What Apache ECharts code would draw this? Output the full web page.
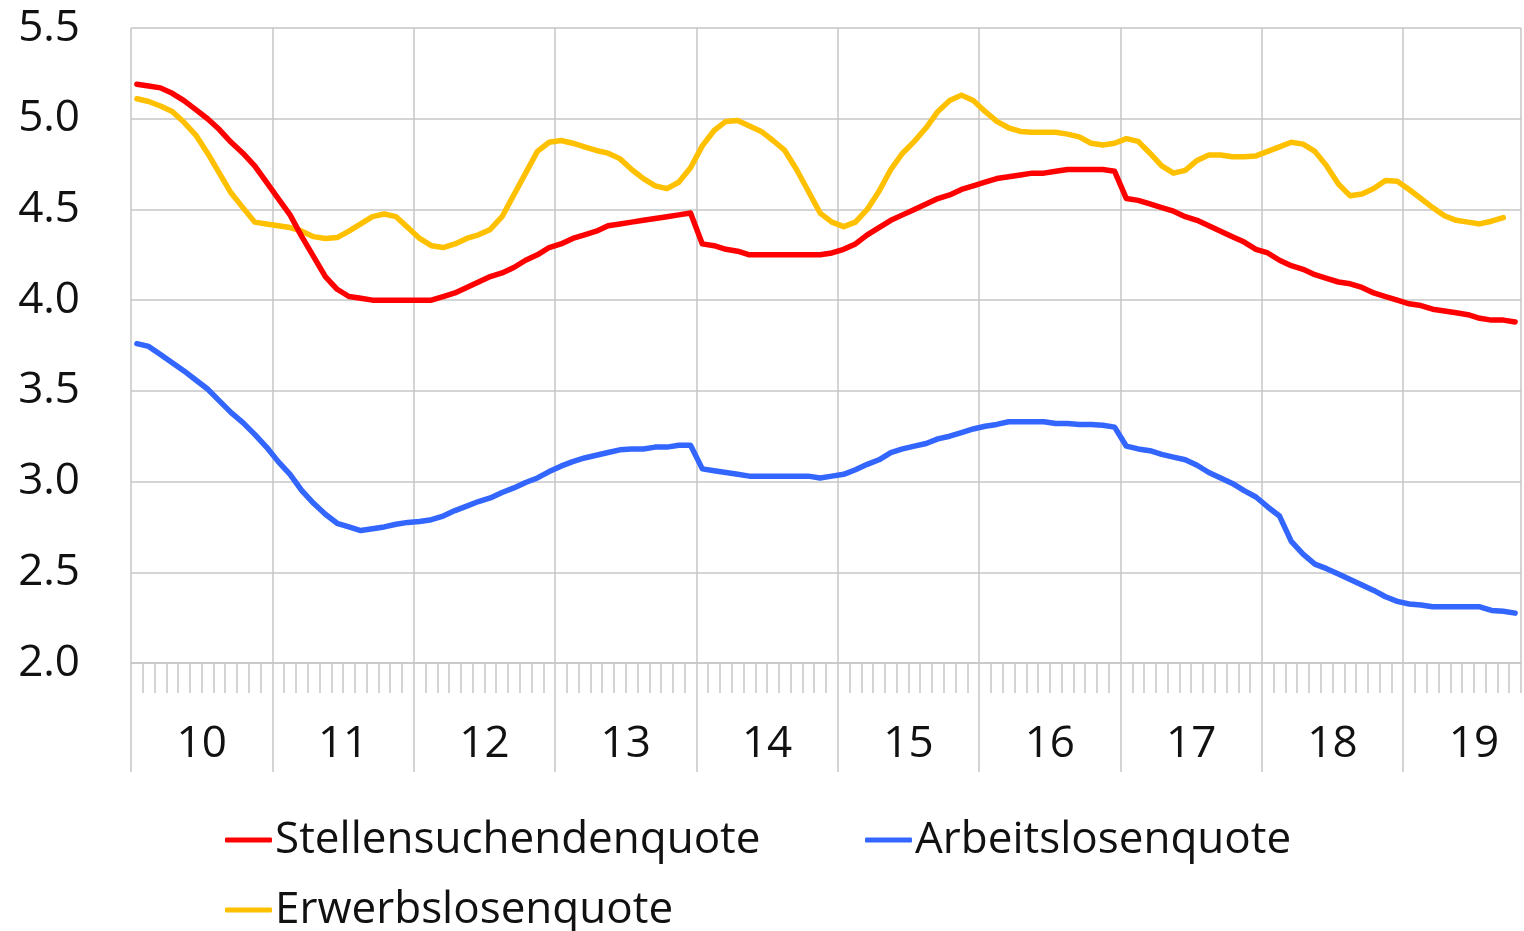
<!DOCTYPE html>
<html>
<head>
<meta charset="utf-8">
<script src="https://cdn.jsdelivr.net/npm/echarts@6/dist/echarts.min.js"></script>
<style>
  html, body { margin: 0; padding: 0; background: #fff; }
  #chart { width: 1524px; height: 931px; }
</style>
</head>
<body>
<div id="chart"></div>
<script>
// year labels on the x axis (2010 .. 2019), monthly data Jan 2010 - Oct 2019
const yearLabels = ['10', '11', '12', '13', '14', '15', '16', '17', '18', '19'];
const monthCount = 118;

const seriesNames = ['Stellensuchendenquote', 'Arbeitslosenquote', 'Erwerbslosenquote'];

const stellensuchende = [
  5.19, 5.18, 5.17, 5.14, 5.10, 5.05, 5.00, 4.94, 4.87, 4.81, 4.74, 4.65,
  4.56, 4.47, 4.35, 4.24, 4.13, 4.06, 4.02, 4.01, 4.00, 4.00, 4.00, 4.00,
  4.00, 4.00, 4.02, 4.04, 4.07, 4.10, 4.13, 4.15, 4.18, 4.22, 4.25, 4.29,
  4.31, 4.34, 4.36, 4.38, 4.41, 4.42, 4.43, 4.44, 4.45, 4.46, 4.47, 4.48,
  4.31, 4.30, 4.28, 4.27, 4.25, 4.25, 4.25, 4.25, 4.25, 4.25, 4.25, 4.26,
  4.28, 4.31, 4.36, 4.40, 4.44, 4.47, 4.50, 4.53, 4.56, 4.58, 4.61, 4.63,
  4.65, 4.67, 4.68, 4.69, 4.70, 4.70, 4.71, 4.72, 4.72, 4.72, 4.72, 4.71,
  4.56, 4.55, 4.53, 4.51, 4.49, 4.46, 4.44, 4.41, 4.38, 4.35, 4.32, 4.28,
  4.26, 4.22, 4.19, 4.17, 4.14, 4.12, 4.10, 4.09, 4.07, 4.04, 4.02, 4.00,
  3.98, 3.97, 3.95, 3.94, 3.93, 3.92, 3.90, 3.89, 3.89, 3.88
];

const arbeitslose = [
  3.76, 3.745, 3.70, 3.655, 3.61, 3.56, 3.51, 3.445, 3.38, 3.325, 3.26, 3.19,
  3.11, 3.04, 2.95, 2.88, 2.82, 2.77, 2.75, 2.73, 2.74, 2.75, 2.765, 2.775,
  2.78, 2.79, 2.81, 2.84, 2.865, 2.89, 2.91, 2.94, 2.965, 2.995, 3.02, 3.055,
  3.085, 3.11, 3.13, 3.145, 3.16, 3.175, 3.18, 3.18, 3.19, 3.19, 3.20, 3.20,
  3.07, 3.06, 3.05, 3.04, 3.03, 3.03, 3.03, 3.03, 3.03, 3.03, 3.02, 3.03,
  3.04, 3.065, 3.095, 3.12, 3.16, 3.18, 3.195, 3.21, 3.235, 3.25, 3.27, 3.29,
  3.305, 3.315, 3.33, 3.33, 3.33, 3.33, 3.32, 3.32, 3.315, 3.315, 3.31, 3.30,
  3.195, 3.18, 3.17, 3.15, 3.135, 3.12, 3.09, 3.05, 3.02, 2.99, 2.95, 2.915,
  2.86, 2.81, 2.67, 2.60, 2.545, 2.52, 2.49, 2.46, 2.43, 2.40, 2.365, 2.34,
  2.325, 2.32, 2.31, 2.31, 2.31, 2.31, 2.31, 2.29, 2.285, 2.275
];

const erwerbslose = [
  5.11, 5.095, 5.07, 5.04, 4.98, 4.91, 4.81, 4.70, 4.59, 4.51, 4.43, 4.42,
  4.41, 4.40, 4.38, 4.35, 4.34, 4.345, 4.38, 4.42, 4.46, 4.475, 4.46, 4.40,
  4.34, 4.30, 4.29, 4.31, 4.34, 4.36, 4.39, 4.46, 4.58, 4.70, 4.82, 4.87,
  4.88, 4.865, 4.845, 4.825, 4.81, 4.78, 4.72, 4.67, 4.63, 4.615, 4.65, 4.73,
  4.85, 4.935, 4.985, 4.99, 4.96, 4.93, 4.88, 4.825, 4.72, 4.60, 4.48, 4.43,
  4.405, 4.43, 4.50, 4.60, 4.72, 4.81, 4.875, 4.95, 5.04, 5.10, 5.13, 5.10,
  5.04, 4.985, 4.95, 4.93, 4.925, 4.925, 4.925, 4.915, 4.90, 4.865, 4.855, 4.865,
  4.89, 4.875, 4.81, 4.74, 4.70, 4.715, 4.77, 4.80, 4.80, 4.79, 4.79, 4.795,
  4.82, 4.845, 4.87, 4.86, 4.82, 4.74, 4.64, 4.575, 4.585, 4.615, 4.66, 4.655,
  4.61, 4.56, 4.51, 4.465, 4.44, 4.43, 4.42, 4.435, 4.455, null
];

const colors = ['#ff0000', '#3366ff', '#ffc000'];
const gridColor = '#c6c6c6';
const fontFamily = '"Open Sans", "Noto Sans", sans-serif';

// month categories, and boundary labels for the year axis
const months = [];
for (let i = 0; i < monthCount; i++) {
  months.push(yearLabels[Math.floor(i / 12)] + '-' + String(i % 12 + 1).padStart(2, '0'));
}
const boundaries = [];
for (let i = 0; i <= monthCount; i++) {
  boundaries.push(i % 12 === 6 ? yearLabels[Math.floor(i / 12)] : '');
}

const chart = echarts.init(document.getElementById('chart'), null, { renderer: 'canvas' });

function legendItem(name, left, top) {
  return {
    data: [name],
    left: left,
    top: top,
    orient: 'horizontal',
    icon: 'roundRect',
    itemWidth: 47,
    itemHeight: 5,
    itemGap: 0,
    padding: 0,
    textStyle: { fontFamily: fontFamily, fontSize: 44, color: '#111', padding: [0, 0, 0, -2] },
    selectedMode: false
  };
}

const lineSeries = [stellensuchende, arbeitslose, erwerbslose].map((data, idx) => ({
  name: seriesNames[idx],
  type: 'line',
  data: data,
  xAxisIndex: 0,
  symbol: 'none',
  smooth: false,
  z: idx === 0 ? 4 : 3,
  itemStyle: { color: colors[idx] },
  lineStyle: { width: 5.5, color: colors[idx], cap: 'round', join: 'round' }
}));

const option = {
  animation: false,
  backgroundColor: '#fff',
  grid: { left: 131, right: 1, top: 28, bottom: 268, containLabel: false },
  legend: [
    legendItem(seriesNames[0], 225, 818),
    legendItem(seriesNames[1], 865, 818),
    legendItem(seriesNames[2], 225, 888)
  ],
  xAxis: [
    {
      type: 'category',
      data: months,
      boundaryGap: true,
      axisLine: { show: true, lineStyle: { color: gridColor, width: 1.5 } },
      axisTick: { show: true, interval: 0, length: 30, lineStyle: { color: gridColor, width: 1.5 } },
      axisLabel: { show: false },
      splitLine: {
        show: true,
        interval: (index) => index % 12 === 0,
        lineStyle: { color: gridColor, width: 1.5 }
      }
    },
    {
      type: 'category',
      data: boundaries,
      boundaryGap: false,
      position: 'bottom',
      axisLine: { show: false },
      axisTick: {
        show: true,
        interval: (index) => index % 12 === 0,
        length: 109,
        lineStyle: { color: gridColor, width: 1.5 }
      },
      axisLabel: {
        show: true,
        interval: 0,
        margin: 59,
        fontFamily: fontFamily,
        fontSize: 44,
        color: '#111'
      },
      splitLine: { show: false }
    }
  ],
  yAxis: {
    type: 'value',
    min: 2,
    max: 5.5,
    interval: 0.5,
    axisLine: { show: false },
    axisTick: { show: false },
    axisLabel: {
      margin: 51,
      fontFamily: fontFamily,
      fontSize: 44,
      color: '#111',
      formatter: (v) => v.toFixed(1)
    },
    splitLine: { show: true, lineStyle: { color: gridColor, width: 1.5 } }
  },
  series: lineSeries
};

chart.setOption(option);
</script>
</body>
</html>
